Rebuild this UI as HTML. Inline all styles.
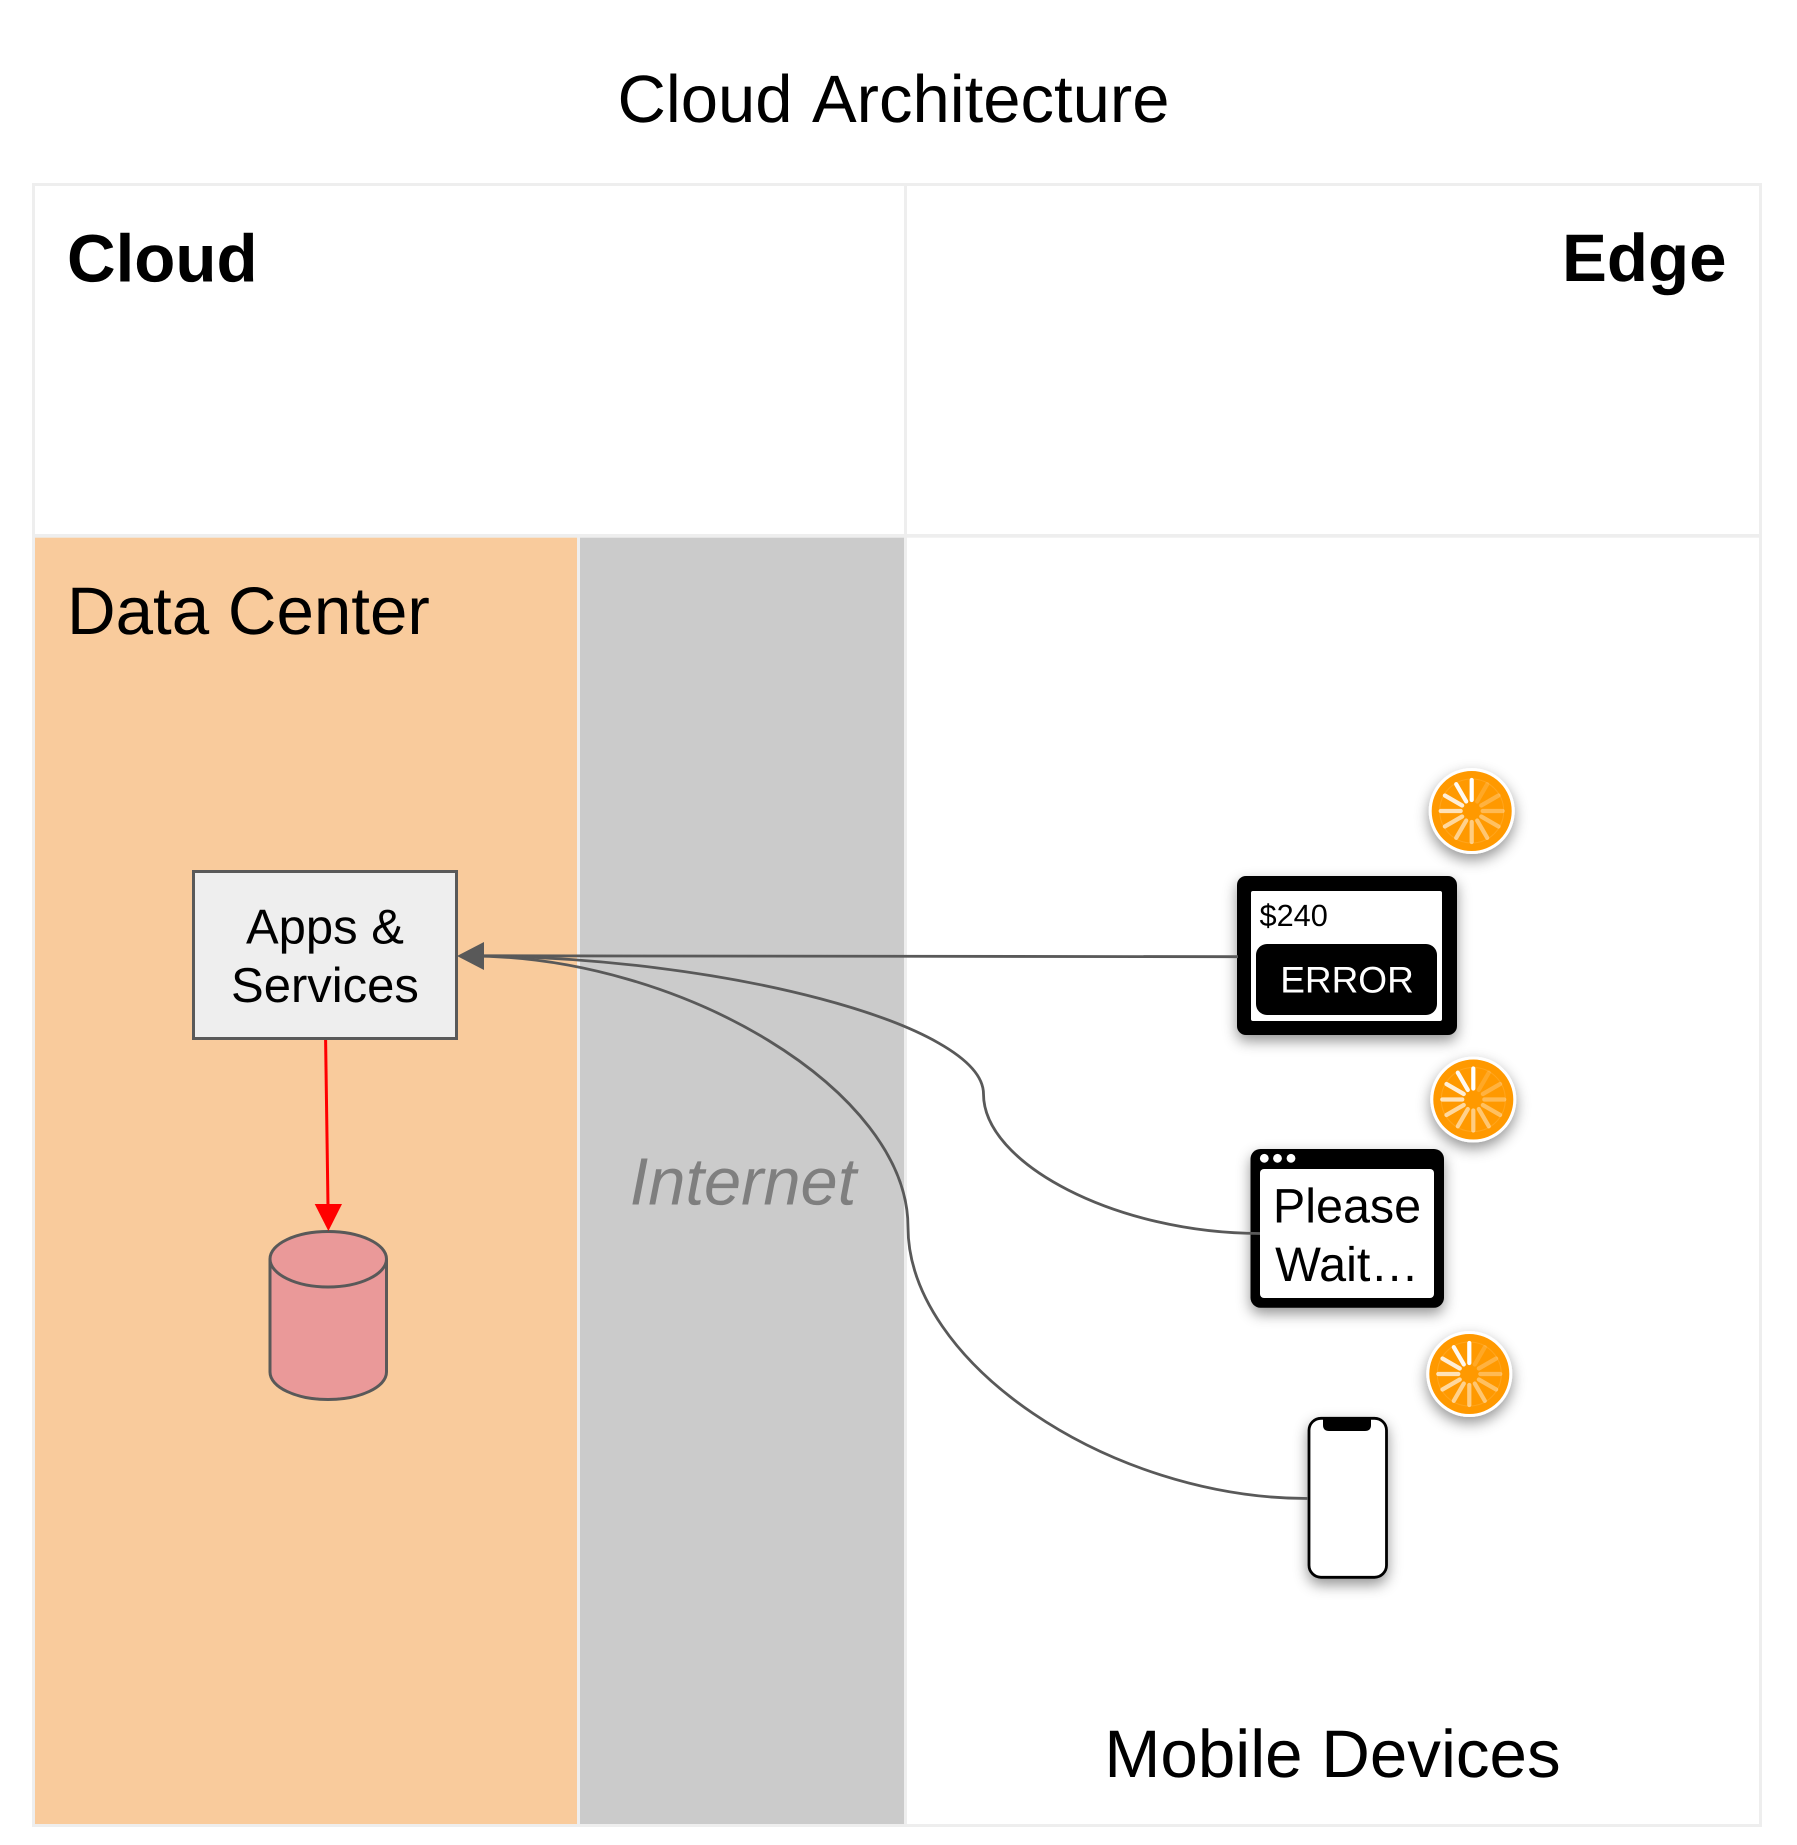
<!DOCTYPE html>
<html>
<head>
<meta charset="utf-8">
<title>Cloud Architecture</title>
<style>
html,body{margin:0;padding:0;background:#fff;}
svg{display:block;}
text{font-family:"Liberation Sans",Arial,sans-serif;text-rendering:geometricPrecision;}
</style>
</head>
<body>
<svg xmlns="http://www.w3.org/2000/svg" xmlns:xlink="http://www.w3.org/1999/xlink" width="1797" height="1845" viewBox="0 0 1797 1845">
<defs>
<filter id="sh" x="-40%" y="-40%" width="180%" height="190%">
<feDropShadow dx="0" dy="6" stdDeviation="7" flood-color="#000" flood-opacity=".42"/>
</filter>
<g id="spin">
<circle r="41.5" fill="#ff9900" stroke="#fff" stroke-width="3"/>
<circle r="32" fill="none" stroke="#ffa51f" stroke-width="1"/>
<g stroke="#fff" stroke-width="4.2" stroke-linecap="round">
<line y1="-11" y2="-31" opacity="1"/>
<line y1="-11" y2="-31" opacity=".15" transform="rotate(30)"/>
<line y1="-11" y2="-31" opacity=".25" transform="rotate(60)"/>
<line y1="-11" y2="-31" opacity=".32" transform="rotate(90)"/>
<line y1="-11" y2="-31" opacity=".38" transform="rotate(120)"/>
<line y1="-11" y2="-31" opacity=".44" transform="rotate(150)"/>
<line y1="-11" y2="-31" opacity=".5" transform="rotate(180)"/>
<line y1="-11" y2="-31" opacity=".55" transform="rotate(210)"/>
<line y1="-11" y2="-31" opacity=".62" transform="rotate(240)"/>
<line y1="-11" y2="-31" opacity=".72" transform="rotate(270)"/>
<line y1="-11" y2="-31" opacity=".84" transform="rotate(300)"/>
<line y1="-11" y2="-31" opacity=".95" transform="rotate(330)"/>
</g>
</g>
</defs>

<rect width="1797" height="1845" fill="#fff"/>

<!-- Frame and regions -->
<rect x="35" y="537.5" width="542" height="1287" fill="#f9cb9c"/>
<rect x="580" y="537.5" width="324" height="1287" fill="#cbcbcb"/>
<rect x="577" y="537.5" width="3" height="1287" fill="#eeeeee"/>
<rect x="32" y="183" width="1730" height="3" fill="#eeeeee"/>
<rect x="32" y="1824" width="1730" height="3" fill="#eeeeee"/>
<rect x="32" y="183" width="3" height="1644" fill="#eeeeee"/>
<rect x="1759" y="183" width="3" height="1644" fill="#eeeeee"/>
<rect x="904" y="183" width="3" height="1644" fill="#eeeeee"/>
<rect x="32" y="534" width="1730" height="3.7" fill="#eeeeee"/>

<!-- Titles -->
<text x="893.5" y="122" font-size="67" word-spacing="4.5" text-anchor="middle" fill="#000">Cloud Architecture</text>
<text x="67" y="281.5" font-size="67.3" font-weight="bold" fill="#000">Cloud</text>
<text x="1726.5" y="281" font-size="67.3" font-weight="bold" text-anchor="end" fill="#000">Edge</text>
<text x="67" y="634" font-size="67.3" fill="#000">Data Center</text>
<text x="1332.5" y="1777" font-size="67.3" text-anchor="middle" fill="#000">Mobile Devices</text>
<text x="743" y="1204.5" font-size="66.8" font-style="italic" text-anchor="middle" fill="#7f7f7f">Internet</text>

<!-- Apps & Services -->
<rect x="193.5" y="871.5" width="263" height="167" fill="#eeeeee" stroke="#595959" stroke-width="3"/>
<text x="325" y="943.5" font-size="49" text-anchor="middle" fill="#000">Apps &amp;</text>
<text x="325" y="1002" font-size="49" text-anchor="middle" fill="#000">Services</text>

<!-- Database -->
<path d="M270 1259 C270 1243.8 296 1231.5 328 1231.5 C360 1231.5 386.5 1243.8 386.5 1259 L386.5 1372 C386.5 1387.2 360 1399.5 328 1399.5 C296 1399.5 270 1387.2 270 1372 Z" fill="#ea9999" stroke="#595959" stroke-width="3"/>
<path d="M270 1259 C270 1274.2 296 1287 328 1287 C360 1287 386.5 1274.2 386.5 1259" fill="none" stroke="#595959" stroke-width="3"/>

<!-- Red arrow -->
<line x1="325.6" y1="1040" x2="328" y2="1206" stroke="#ff0000" stroke-width="3"/>
<polygon points="314.7,1204 342,1204 328.4,1231" fill="#ff0000"/>

<!-- Devices -->
<g filter="url(#sh)">
<rect x="1237" y="876" width="220" height="159" rx="9" fill="#000"/>
</g>
<rect x="1251" y="891" width="191" height="130" rx="2" fill="#fff"/>
<rect x="1256" y="944" width="181" height="71" rx="11" fill="#000"/>
<text x="1259.5" y="926" font-size="30.7" fill="#000">$240</text>
<text x="1347" y="992.5" font-size="37" text-anchor="middle" fill="#fff">ERROR</text>

<g filter="url(#sh)">
<rect x="1250.5" y="1149" width="193.5" height="158.7" rx="10" fill="#000"/>
</g>
<rect x="1260" y="1169" width="174" height="129" rx="4" fill="#fff"/>
<circle cx="1264.3" cy="1158.3" r="4.4" fill="#fff"/>
<circle cx="1277.5" cy="1158.3" r="4.4" fill="#fff"/>
<circle cx="1291" cy="1158.3" r="4.4" fill="#fff"/>
<text x="1347" y="1222.5" font-size="48.5" text-anchor="middle" fill="#000">Please</text>
<text x="1347" y="1281" font-size="48.5" text-anchor="middle" fill="#000">Wait…</text>

<g filter="url(#sh)">
<rect x="1309" y="1418.3" width="77.5" height="159" rx="12" fill="#fff" stroke="#000" stroke-width="2.8"/>
</g>
<path d="M1323 1418 H1371 V1425 Q1371 1431 1365 1431 H1329 Q1323 1431 1323 1425 Z" fill="#000"/>

<!-- Spinners -->
<g filter="url(#sh)"><use xlink:href="#spin" href="#spin" transform="translate(1471.7 811)"/></g>
<g filter="url(#sh)"><use xlink:href="#spin" href="#spin" transform="translate(1473.3 1099.5)"/></g>
<g filter="url(#sh)"><use xlink:href="#spin" href="#spin" transform="translate(1469.3 1374)"/></g>

<!-- Connectors -->
<g fill="none" stroke="#595959" stroke-width="2.8">
<path d="M1238 956.7 L484 955.8"/>
<path d="M1260 1233.5 C1117 1233.5 983.5 1164 983.5 1094 C983.5 1024 720 956 470 956"/>
<path d="M1308 1498.5 C1108 1498.5 908 1362 908 1227 C908 1091 682 956 470 956"/>
</g>
<polygon points="457,956 484,942 484,970" fill="#595959"/>
</svg>
</body>
</html>
